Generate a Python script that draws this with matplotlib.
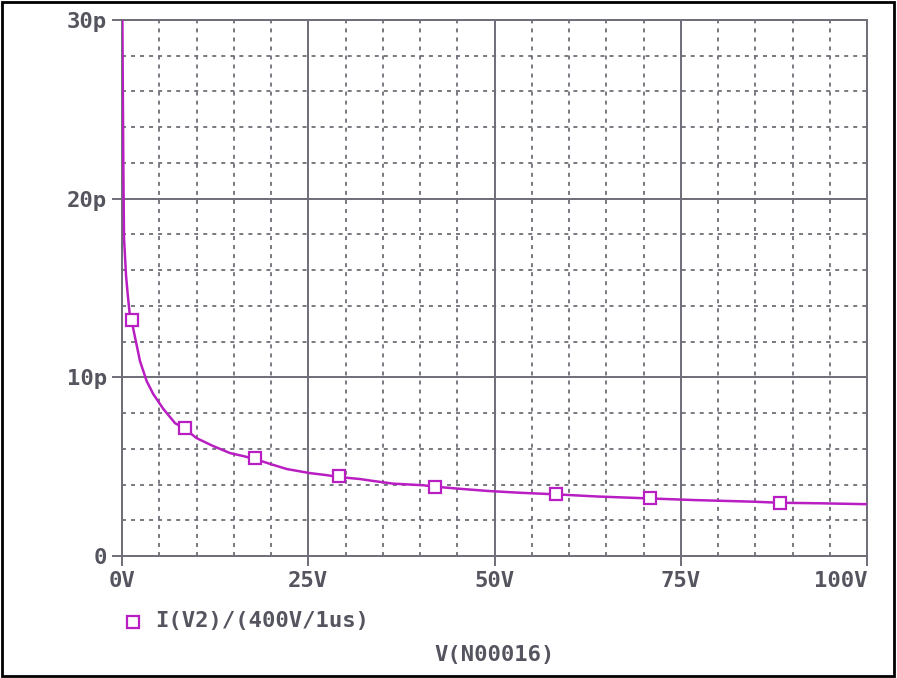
import matplotlib.pyplot as plt
from matplotlib.lines import Line2D
from matplotlib.patches import Rectangle
from matplotlib.ticker import MultipleLocator

# curve: V(N00016) in volts, capacitance in pF
volts = [0.0, 0.05, 0.17, 0.27, 0.54, 0.8, 1.07, 1.34, 1.52, 2.42, 3.31, 4.20,
         5.55, 7.11, 8.46, 10.0, 12.2, 14.5, 16.2, 17.85, 19.9, 22.1, 25.2,
         27.4, 29.1, 31.9, 33.7, 36.4, 40.4, 42.0, 45.4, 49.1, 53.4, 58.3,
         63.8, 70.9, 76.9, 84.7, 88.3, 93.7, 100.0]
cap_pf = [40.0, 30.0, 22.3, 17.8, 15.7, 14.5, 13.4, 13.2, 12.7, 10.9, 9.79, 9.06,
          8.23, 7.44, 7.11, 6.60, 6.16, 5.76, 5.60, 5.43, 5.15, 4.87, 4.64,
          4.53, 4.42, 4.31, 4.20, 4.05, 3.96, 3.88, 3.76, 3.64, 3.54, 3.45,
          3.33, 3.22, 3.13, 3.04, 2.98, 2.95, 2.90]

# the square markers along the trace
mark_v = [1.34, 8.46, 17.85, 29.1, 42.0, 58.3, 70.9, 88.3]
mark_c = [13.2, 7.16, 5.48, 4.48, 3.88, 3.45, 3.22, 2.98]

xticks = [0, 25, 50, 75, 100]
xlabels = ['0V', '25V', '50V', '75V', '100V']
yticks = [0, 10, 20, 30]
ylabels = ['0', '10p', '20p', '30p']

trace = '#b81ec2'
gray = '#6e6e78'
txt = '#55555f'
font = 'DejaVu Sans Mono'

fig = plt.figure(figsize=(8.97, 6.78), dpi=100)
ax = fig.add_axes([122 / 897, 122 / 678, 745 / 897, 536 / 678])

ax.plot(volts, cap_pf, color=trace, lw=1.8, zorder=3)
ax.plot(mark_v, mark_c, ls='none', marker='s', ms=9, mfc='white',
        mec=trace, mew=1.6, zorder=4)

ax.set_xlim(0, 100)
ax.set_ylim(0, 30)
ax.set_xticks(xticks)
ax.set_xticklabels(xlabels)
ax.set_yticks(yticks)
ax.set_yticklabels(ylabels)
ax.xaxis.set_minor_locator(MultipleLocator(5))
ax.yaxis.set_minor_locator(MultipleLocator(2))

ax.grid(which='major', color=gray, lw=1.4, ls='-')
ax.grid(which='minor', color=gray, lw=1.3, ls=(0, (2.2, 2.8)))
ax.set_axisbelow(True)
ax.tick_params(which='major', direction='out', length=7, width=1.4,
               color=gray, labelcolor=txt, labelsize=16, pad=4)
ax.tick_params(which='minor', length=0)
for lab in ax.get_xticklabels() + ax.get_yticklabels():
    lab.set_family(font)
    lab.set_weight('bold')
ax.get_xticklabels()[-1].set_ha('right')
ax.get_xticklabels()[-1].set_x(100)
for s in ax.spines.values():
    s.set_color(gray)
    s.set_linewidth(1.4)

# legend entry and x label under the plot
fig.add_artist(Line2D([133 / 897], [1 - 622 / 678], marker='s', ms=8,
                      mfc='white', mec=trace, mew=1.6, ls='none'))
fig.text(155 / 897, 1 - 621 / 678, 'I(V2)/(400V/1us)', family=font,
         weight='bold', size=16, color=txt, va='center', ha='left')
fig.text(495 / 897, 1 - 655 / 678, 'V(N00016)', family=font,
         weight='bold', size=16, color=txt, va='center', ha='center')

fig.add_artist(Rectangle((0.002, 0.003), 0.995, 0.994, transform=fig.transFigure,
                         fill=False, ec='black', lw=2))

fig.savefig('out.png', dpi=100)
